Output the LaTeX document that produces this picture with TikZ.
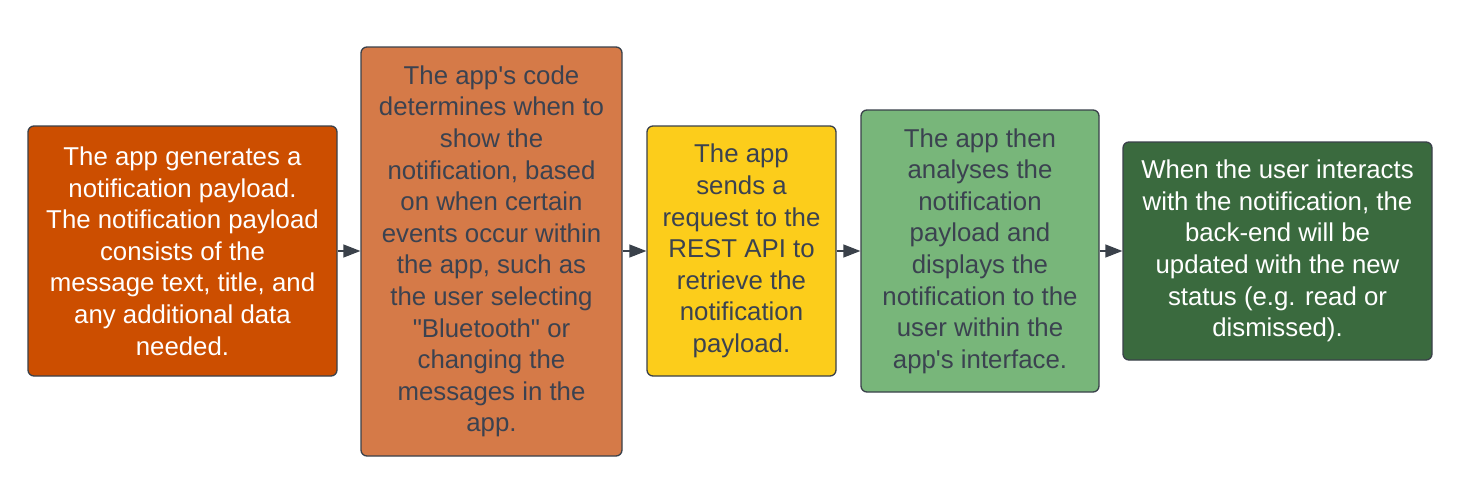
\documentclass[tikz,border=0pt]{standalone}
\usepackage{fontspec}
\setmainfont{Liberation Sans}
\usetikzlibrary{arrows.meta}
\definecolor{edge}{HTML}{3A414A}
\definecolor{txtdark}{HTML}{3B4250}
\definecolor{c1}{HTML}{CC4E00}
\definecolor{c2}{HTML}{D57A48}
\definecolor{c3}{HTML}{FCCD1B}
\definecolor{c4}{HTML}{78B67A}
\definecolor{c5}{HTML}{3A6A3E}
\tikzset{
  box/.style={draw=edge, line width=1.3pt, rounded corners=6pt, align=center, inner sep=0pt,
    font=\fontsize{25.8}{31.6}\selectfont},
  conn/.style={draw=edge, line width=1.3pt, -{Stealth[length=17pt,width=13pt,inset=0pt]}}
}
\begin{document}
\begin{tikzpicture}[x=1pt,y=-1pt]
\useasboundingbox[fill=white] (0,0) rectangle (1476,501);
\node[box, fill=c1, text=white, minimum width=309pt, minimum height=250pt] (b1) at (182.5,251)
 {The app generates a\\notification payload.\\The notification payload\\consists of the\\message text, title, and\\any additional data\\needed.};
\node[box, fill=c2, text=txtdark, minimum width=261pt, minimum height=409pt] (b2) at (491.5,251.5)
 {The app\textquotesingle s code\\determines when to\\show the\\notification, based\\on when certain\\events occur within\\the app, such as\\the user selecting\\\textquotedbl Bluetooth\textquotedbl{} or\\changing the\\messages in the\\app.};
\node[box, fill=c3, text=txtdark, minimum width=189pt, minimum height=250pt] (b3) at (741.5,251)
 {The app\\sends a\\request to the\\REST API to\\retrieve the\\notification\\payload.};
\node[box, fill=c4, text=txtdark, minimum width=238pt, minimum height=282pt] (b4) at (980,251)
 {The app then\\analyses the\\notification\\payload and\\displays the\\notification to the\\user within the\\app\textquotesingle s interface.};
\node[box, fill=c5, text=white, minimum width=309pt, minimum height=218pt] (b5) at (1277.5,251)
 {When the user interacts\\with the notification, the\\back-end will be\\updated with the new\\status (e.g. read or\\dismissed).};
\draw[conn] (b1.east) -- (b2.west |- b1.east);
\draw[conn] (b2.east |- b3.west) -- (b3.west);
\draw[conn] (b3.east) -- (b4.west |- b3.east);
\draw[conn] (b4.east |- b5.west) -- (b5.west);
\end{tikzpicture}
\end{document}
